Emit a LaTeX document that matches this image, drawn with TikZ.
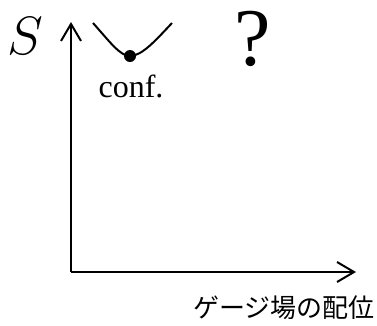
\RequirePackage{fix-cm}
\documentclass[tikz,border=0pt]{standalone}
\usepackage{fontspec}
\newfontfamily\cjk{Noto Sans CJK JP}
\newfontfamily\serifb{Liberation Serif}
\usetikzlibrary{arrows.meta}
\tikzset{
  axis/.style={line width=2pt, -{Straight Barb[length=17pt,width=20pt,line width=2pt]}},
  lbl/.style={inner sep=0pt, anchor=base},
}
\begin{document}
\begin{tikzpicture}[x=1pt,y=-1pt]
\useasboundingbox (0,0) rectangle (377,325);
\coordinate (O) at (71,272);
\coordinate (ytip) at (71,22);
\coordinate (xtip) at (356,272);
\draw[axis] (O) -- (ytip);
\draw[axis] (O) -- (xtip);
\coordinate (cl) at (93,23);
\coordinate (cr) at (172,23);
\node[circle, fill, inner sep=0pt, minimum size=12pt] (dot) at (130,56) {};
\draw[line width=2pt] (cl) .. controls (110,42) and (120,56) .. (dot.center)
  .. controls (142,56) and (156,40) .. (cr);
\node[lbl] (S) at (25,54) {\fontsize{54}{54}\selectfont$S$};
\node[lbl] (q) at (253,65) {\fontsize{82}{82}\selectfont\serifb ?};
\node[lbl] (conf) at (131,97) {\fontsize{32}{32}\selectfont\serifb conf.};
\node[lbl] (cfg) at (284,317) {\fontsize{26}{26}\selectfont\cjk ゲージ場の配位};
\end{tikzpicture}
\end{document}
